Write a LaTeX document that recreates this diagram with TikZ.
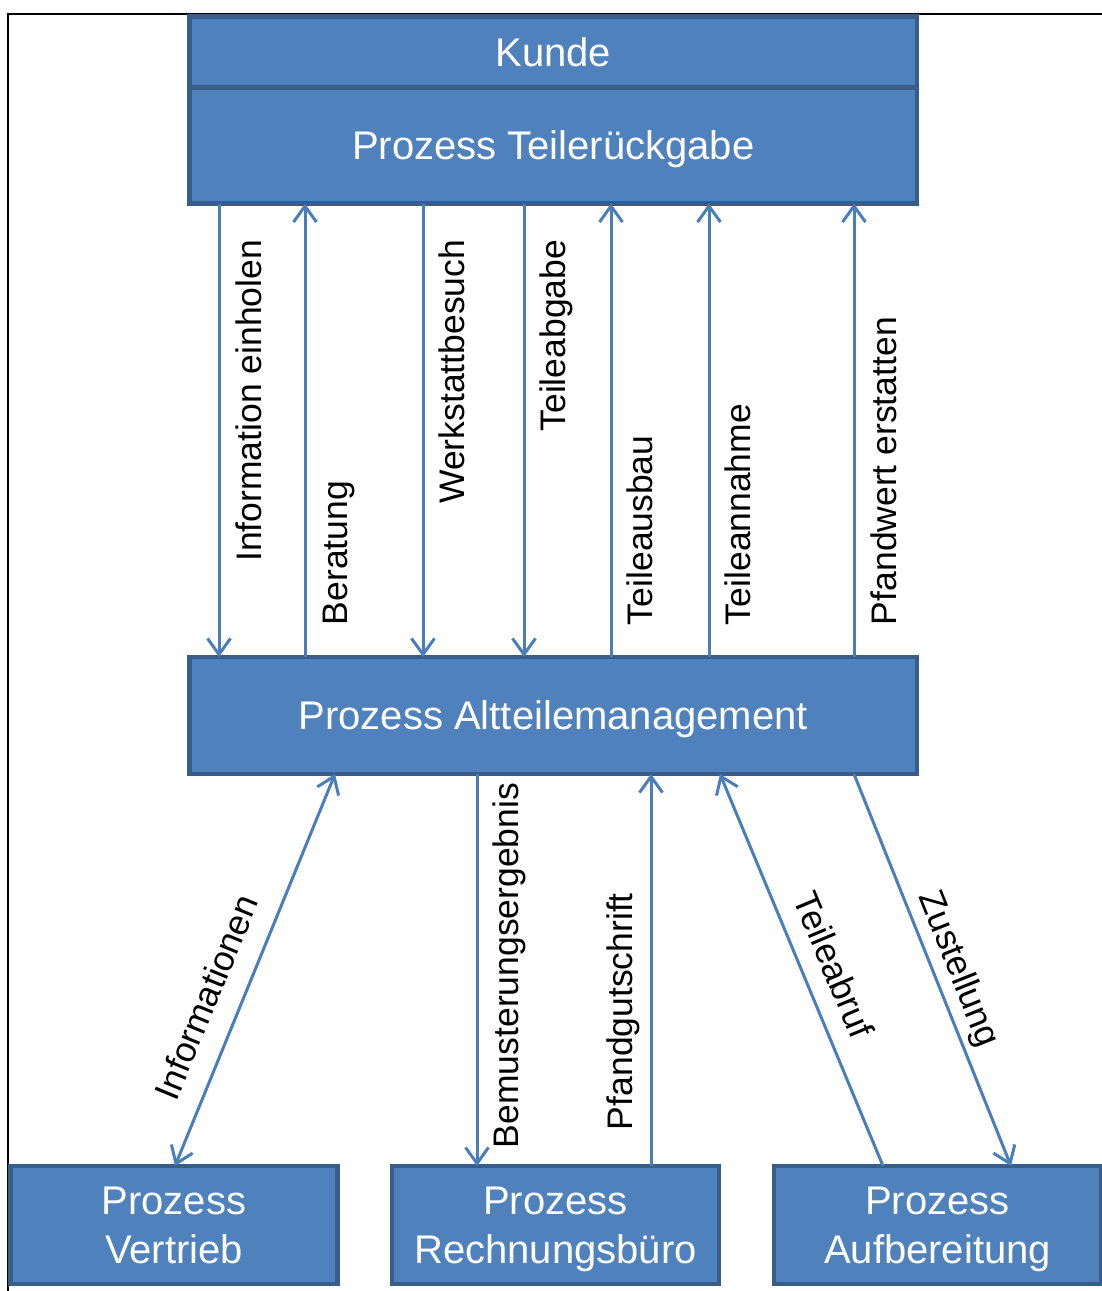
\documentclass[tikz,border=0pt]{standalone}
\usepackage{fontspec}
\setmainfont{Liberation Sans}
\usetikzlibrary{arrows.meta,calc}
\definecolor{boxfill}{HTML}{4F81BD}
\definecolor{boxline}{HTML}{385D8A}
\definecolor{flow}{HTML}{4A7EBB}
\begin{document}
\begin{tikzpicture}[x=1pt,y=-1pt,
  proc/.style={rectangle, draw=boxline, fill=boxfill, line width=4.5pt,
    inner sep=0pt, outer sep=0pt, text=white, align=center,
    font=\fontsize{40}{49}\selectfont, text height=28.6pt, text depth=0pt},
  proctwo/.style={proc, text height=77.6pt},
  flowline/.style={draw=flow, line width=3pt,
    arrows={-Straight Barb[length=16pt,width=23pt]}},
  flowlabel/.style={inner sep=0pt, outer sep=0pt, text=black,
    font=\fontsize{35.5}{40}\selectfont, text height=25.4pt, text depth=0pt}
]
\useasboundingbox (0,0) rectangle (1101,1291);

% outer frame
\draw[line width=2.5pt, line cap=rect] (8,1295) -- (8,13.8) -- (1105,13.8);

% process boxes
\node[proc, minimum width=727.5pt, minimum height=71pt]
  (kunde) at (553.25,52) {Kunde};
\node[proc, minimum width=727.5pt, minimum height=116pt]
  (rueck) at (553.25,145.5) {Prozess Teilerückgabe};
\node[proc, minimum width=727.5pt, minimum height=117pt]
  (atm) at (553.25,715.5) {Prozess Altteilemanagement};
\node[proctwo, minimum width=327pt, minimum height=118pt]
  (vertrieb) at (174,1225) {Prozess\\Vertrieb};
\node[proctwo, minimum width=327pt, minimum height=118pt]
  (rb) at (555.5,1225) {Prozess\\Rechnungsbüro};
\node[proctwo, minimum width=327pt, minimum height=118pt]
  (aufb) at (937.5,1225) {Prozess\\Aufbereitung};

% flows between customer process and core-part management
\draw[flowline] (219,0 |- rueck.south) -- (219,0 |- atm.north);
\draw[flowline] (305,0 |- atm.north) -- (305,0 |- rueck.south);
\draw[flowline] (423,0 |- rueck.south) -- (423,0 |- atm.north);
\draw[flowline] (524,0 |- rueck.south) -- (524,0 |- atm.north);
\draw[flowline] (611,0 |- atm.north) -- (611,0 |- rueck.south);
\draw[flowline] (709,0 |- atm.north) -- (709,0 |- rueck.south);
\draw[flowline] (854,0 |- atm.north) -- (854,0 |- rueck.south);

\node[flowlabel, rotate=90, anchor=east] (l1) at (249,240) {Information einholen};
\node[flowlabel, rotate=90, anchor=west] (l2) at (335,625) {Beratung};
\node[flowlabel, rotate=90, anchor=east] (l3) at (452,240) {Werkstattbesuch};
\node[flowlabel, rotate=90, anchor=east] (l4) at (553,240) {Teileabgabe};
\node[flowlabel, rotate=90, anchor=west] (l5) at (640,625) {Teileausbau};
\node[flowlabel, rotate=90, anchor=west] (l6) at (738,625) {Teileannahme};
\node[flowlabel, rotate=90, anchor=west] (l7) at (884,625) {Pfandwert erstatten};

% flows to the downstream processes
\draw[flowline, arrows={Straight Barb[length=16pt,width=23pt]-Straight Barb[length=16pt,width=23pt]}]
  (335,0 |- atm.south) -- (175,0 |- vertrieb.north);
\draw[flowline] (477,0 |- atm.south) -- (477,0 |- rb.north);
\draw[flowline] (651,0 |- rb.north) -- (651,0 |- atm.south);
\draw[flowline] (883,0 |- aufb.north) -- (720,0 |- atm.south);
\draw[flowline] (854,0 |- atm.south) -- (1011,0 |- aufb.north);

\node[flowlabel, rotate=67.6] (l8) at (206,997) {Informationen};
\node[flowlabel, rotate=90, anchor=west] (l9) at (506,1148) {Bemusterungsergebnis};
\node[flowlabel, rotate=90, anchor=west] (l10) at (620,1130) {Pfandgutschrift};
\node[flowlabel, rotate=-67.2] (l11) at (834,965) {Teileabruf};
\node[flowlabel, rotate=-68.2] (l12) at (961,968) {Zustellung};
\end{tikzpicture}
\end{document}
